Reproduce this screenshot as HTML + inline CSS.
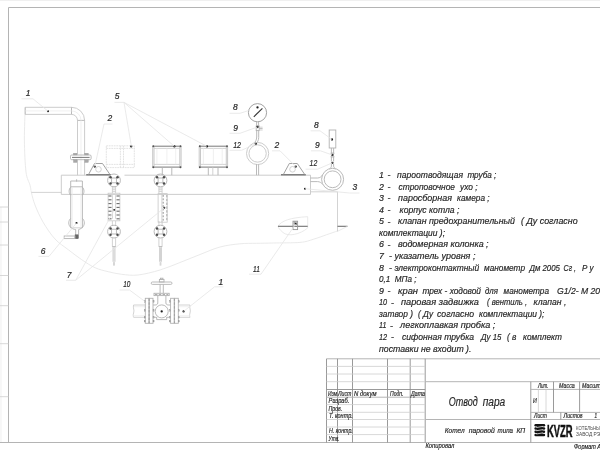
<!DOCTYPE html>
<html lang="ru">
<head>
<meta charset="utf-8">
<title>Отвод пара — Котел паровой типа КП</title>
<style>
html,body{margin:0;padding:0;background:#fff;overflow:hidden}
svg{display:block;width:600px;height:450px;filter:grayscale(1)}
svg text{font-family:"Liberation Sans",sans-serif;font-style:italic;white-space:pre}
.o{stroke:#b2b2b2;stroke-width:.9;fill:none}
.o2h{stroke:#c6c6c6;stroke-width:.9;fill:none}
.om{stroke:#989898;stroke-width:.9;fill:none}
.o2{stroke:#c8c8c8;stroke-width:.8;fill:none}
.vl{stroke:#e9e9e9;stroke-width:.7;fill:none}
.l{stroke:#e5e5e5;stroke-width:.8;fill:none}
.d{stroke:#5a5a5a;stroke-width:1.1;fill:none}
.d2{stroke:#707070;stroke-width:1.1;fill:none}
.d3{stroke:#6a6a6a;stroke-width:.9;fill:none}
.o3{stroke:#b0b0b0;stroke-width:.7;fill:none}
.ds{stroke:#dcdcdc;stroke-width:.8;fill:none;stroke-dasharray:1.8 .7}
.dsh{stroke:#7a7a7a;stroke-width:.8;fill:none;stroke-dasharray:1.8 1.6}
.ndl{stroke:#333;stroke-width:1.1;fill:none}
.f{stroke:#b4b4b4;stroke-width:1;fill:none}
.tv{stroke:#8e8e8e;stroke-width:.9;fill:none}
.t{stroke:#cecece;stroke-width:.8;fill:none}
.k{fill:#1c1c1c;stroke:none}
.k2{fill:#555;stroke:none}
.k3{fill:#4a4a4a;stroke:none}
.bd{stroke:#6a6a6a;stroke-width:1.1;fill:none}
.dsh2{stroke:#999;stroke-width:.8;fill:none;stroke-dasharray:2.4 1.4}
.dk{fill:#a8a8a8;stroke:#999;stroke-width:.3}
.dk2{fill:#666;stroke:#555;stroke-width:.4}
.blk{fill:#111;stroke:none}
.wh{stroke:#fff;stroke-width:.75;fill:none}
.tx{fill:#262626;stroke:#262626;stroke-width:.18}
.dash{stroke:#2b2b2b;stroke-width:.9;fill:none}
.lb{fill:#2a2a2a;stroke:#2a2a2a;stroke-width:.22}
.logo{fill:#111;stroke:#111;stroke-width:.55;font-style:normal;font-weight:bold}
.lg2{fill:#4a4a4a;font-style:normal}
</style>
</head>
<body>
<svg width="600" height="450" viewBox="0 0 600 450">
<rect x="0" y="0" width="600" height="450" fill="#fff"/>
<g id="frame">
<line class="vl" x1="0" y1="0.5" x2="600" y2="0.5"/>
<line class="vl" x1="1" y1="207" x2="1" y2="442.5"/>
<line class="f" x1="8.5" y1="7.5" x2="8.5" y2="442.5"/>
<line class="f" x1="8.5" y1="7.5" x2="600" y2="7.5"/>
<line class="f" x1="0" y1="442.5" x2="600" y2="442.5"/>
<line class="t" x1="0" y1="207" x2="8.5" y2="207"/>
<line class="t" x1="0" y1="222" x2="8.5" y2="222"/>
<line class="t" x1="0" y1="245" x2="8.5" y2="245"/>
<line class="t" x1="0" y1="275.5" x2="8.5" y2="275.5"/>
<line class="t" x1="0" y1="305.7" x2="8.5" y2="305.7"/>
<line class="t" x1="0" y1="343.7" x2="8.5" y2="343.7"/>
<line class="t" x1="0" y1="396.7" x2="8.5" y2="396.7"/>
</g>
<g id="boiler">
<path class="l" d="M25.2,107.3 C25.1,112.8 24.3,129.2 24.4,140 C24.5,150.8 25.1,164.5 26,172 C26.9,179.5 29.1,181.6 30,185 C30.9,188.4 30.6,189.3 31.4,192.6 C32.2,195.9 33.1,200.1 35,205 C36.9,209.9 39.7,216.3 43,222 C46.3,227.7 50.8,234.4 55,239 C59.2,243.6 63.8,246.2 68.3,249.7 C72.8,253.1 77.2,256.7 81.7,259.7 C86.2,262.7 90.6,265.7 95,267.7 C99.4,269.7 103.8,270.6 108.3,271.7 C112.8,272.8 116.8,273.8 121.7,274.3 C126.7,274.9 131.6,275.7 138,275 C144.4,274.3 153.0,272.1 160,270 C167.0,267.9 173.3,265.1 180,262.5 C186.7,259.9 193.3,257.1 200,254.5 C206.7,251.9 213.3,248.8 220,247 C226.7,245.2 233.9,244.4 240,243.8 C246.1,243.2 251.1,243.4 256.7,243.3 C262.2,243.2 266.1,243.2 273.3,243 C280.5,242.8 293.3,243.0 300,242.4 C306.7,241.8 308.9,240.6 313.3,239.3 C317.8,238.0 322.7,236.1 326.7,234.7 C330.7,233.3 335.7,231.6 337.5,231"/>
<line class="o2" x1="31.4" y1="192.4" x2="61.3" y2="192.4"/>
<line class="o2" x1="310.5" y1="191.8" x2="337.5" y2="191.8"/>
<line class="o2" x1="337.5" y1="191.8" x2="337.5" y2="231.5"/>
<line class="d2" x1="337.5" y1="226.3" x2="347.5" y2="226.3"/>
<line class="l" x1="347.5" y1="226.3" x2="337.5" y2="231.3"/>
</g>
<g id="header">
<path class="o2h" d="M110,175.2 H61.3 V194.4 H310.5 V175.2 H124.5"/>
<circle class="k" cx="305" cy="188.7" r="1.05"/>
</g>
<g id="pipe1">
<path class="o2h" d="M25.2,107.3 H71.5 A13.1,13.1 0 0 1 84.6,120.4 V154.6"/>
<path class="o2h" d="M25.2,114.4 H71.5 A6,6 0 0 1 77.5,120.4 V154.6"/>
<line class="o" x1="25.2" y1="107.3" x2="25.2" y2="114.4"/>
<line class="o" x1="71.5" y1="107.3" x2="71.5" y2="114.4"/>
<line class="o" x1="77.5" y1="120.4" x2="84.6" y2="120.4"/>
<path class="vl" d="M25.2,110.9 H71.5 A9.5,9.5 0 0 1 81,120.4 V175"/>
<line class="o2h" x1="77.5" y1="159.8" x2="77.5" y2="175.2"/>
<line class="o2h" x1="84.6" y1="159.8" x2="84.6" y2="175.2"/>
<rect class="o" x="70.5" y="155" width="20.6" height="4.7" rx="1.2"/>
<line class="d3" x1="72" y1="157.4" x2="89.6" y2="157.4"/>
<rect class="dk" x="73.4" y="153.2" width="3.6" height="1.8"/>
<rect class="dk" x="73.4" y="159.7" width="3.6" height="2.8"/>
<rect class="dk" x="84.8" y="153.2" width="3.6" height="1.8"/>
<rect class="dk" x="84.8" y="159.7" width="3.6" height="2.8"/>
<circle class="k" cx="48" cy="111.2" r="1.05"/>
</g>
<g>
<line class="d" x1="86.2" y1="174.8" x2="111" y2="174.8"/>
<path class="om" d="M88.5,174.6 L94.5,163.5 L102.5,163.5 L110,174.6"/>
<circle class="o2" cx="98.5" cy="169.3" r="2.8"/>
<circle class="k" cx="94.8" cy="166.6" r="1.15"/>
</g>
<g>
<line class="d" x1="281" y1="174.8" x2="305.8" y2="174.8"/>
<path class="om" d="M283.3,174.6 L289.3,163.5 L297.3,163.5 L304.8,174.6"/>
<circle class="o2" cx="292.5" cy="169.3" r="2.8"/>
<circle class="k" cx="295.8" cy="166.6" r="1.15"/>
</g>
<g>
<rect class="ds" x="106.3" y="145.8" width="28" height="21.8"/>
<line class="ds" x1="106.3" y1="148.4" x2="134.7" y2="148.4"/>
<line class="ds" x1="106.3" y1="164.4" x2="134.7" y2="164.4"/>
<line class="ds" x1="120.4" y1="145.8" x2="120.4" y2="167.6"/>
<line class="ds" x1="123.5" y1="145.8" x2="123.5" y2="167.6"/>
<circle class="k" cx="131.2" cy="146.4" r="1.15"/>
</g>
<g>
<line class="d3" x1="152.7" y1="146.2" x2="181.1" y2="146.2"/>
<line class="d3" x1="152.7" y1="167.1" x2="181.1" y2="167.1"/>
<line class="o3" x1="152.7" y1="146.2" x2="152.7" y2="167.1"/>
<line class="o3" x1="181.1" y1="146.2" x2="181.1" y2="167.1"/>
<line class="o3" x1="154" y1="146.2" x2="154" y2="167.1"/>
<line class="o3" x1="179.8" y1="146.2" x2="179.8" y2="167.1"/>
<line class="o2" x1="154" y1="148.4" x2="179.8" y2="148.4"/>
<line class="o2" x1="154" y1="164.4" x2="179.8" y2="164.4"/>
<line class="vl" x1="156.9" y1="148.4" x2="156.9" y2="164.4"/>
<line class="vl" x1="166.9" y1="148.4" x2="166.9" y2="164.4"/>
<line class="vl" x1="175.7" y1="148.4" x2="175.7" y2="164.4"/>
<circle class="k2" cx="153.3" cy="146.2" r="0.95"/>
<circle class="k2" cx="153.3" cy="167.3" r="0.95"/>
<circle class="k2" cx="180.5" cy="146.2" r="0.95"/>
<circle class="k2" cx="180.5" cy="167.3" r="0.95"/>
<line class="o" x1="162.3" y1="167.1" x2="162.3" y2="175.2"/>
<line class="o" x1="171.8" y1="167.1" x2="171.8" y2="175.2"/>
<circle class="k" cx="174.4" cy="146.4" r="1.15"/>
</g>
<g>
<line class="d3" x1="199.2" y1="146.2" x2="227.6" y2="146.2"/>
<line class="d3" x1="199.2" y1="167.1" x2="227.6" y2="167.1"/>
<line class="o3" x1="199.2" y1="146.2" x2="199.2" y2="167.1"/>
<line class="o3" x1="227.6" y1="146.2" x2="227.6" y2="167.1"/>
<line class="o3" x1="200.5" y1="146.2" x2="200.5" y2="167.1"/>
<line class="o3" x1="226.3" y1="146.2" x2="226.3" y2="167.1"/>
<line class="o2" x1="200.5" y1="148.4" x2="226.3" y2="148.4"/>
<line class="o2" x1="200.5" y1="164.4" x2="226.3" y2="164.4"/>
<line class="vl" x1="203.4" y1="148.4" x2="203.4" y2="164.4"/>
<line class="vl" x1="213.4" y1="148.4" x2="213.4" y2="164.4"/>
<line class="vl" x1="222.2" y1="148.4" x2="222.2" y2="164.4"/>
<circle class="k2" cx="199.8" cy="146.2" r="0.95"/>
<circle class="k2" cx="199.8" cy="167.3" r="0.95"/>
<circle class="k2" cx="227" cy="146.2" r="0.95"/>
<circle class="k2" cx="227" cy="167.3" r="0.95"/>
<line class="o" x1="208.3" y1="167.1" x2="208.3" y2="175.2"/>
<line class="o" x1="218" y1="167.1" x2="218" y2="175.2"/>
<line class="o2" x1="212.8" y1="167.1" x2="212.8" y2="175.2"/>
<circle class="k" cx="207" cy="146.4" r="1.15"/>
</g>
<g id="col6">
<path class="o" d="M70.7,228 V181 H82.4 V228"/>
<line class="o" x1="70.7" y1="186.8" x2="82.4" y2="186.8"/>
<line class="o2" x1="70.7" y1="227.8" x2="82.4" y2="227.8"/>
<path class="o" d="M70.7,187.2 C68.6,189 68.6,193.4 70.7,195.2 M82.4,187.2 C84.5,189 84.5,193.4 82.4,195.2"/>
<path class="o" d="M70.7,218.4 C68.2,220.6 68,225.2 71,227.6 C72.4,228.8 74,229.4 75.7,229.6 M82.4,218.4 C84.9,220.6 85.1,225.2 82.1,227.6 C80.7,228.8 79.4,229.4 78.6,229.6"/>
<line class="o" x1="76.6" y1="179.3" x2="76.6" y2="181.6"/>
<line class="vl" x1="72.2" y1="186.8" x2="72.2" y2="227.8"/>
<line class="vl" x1="80.9" y1="186.8" x2="80.9" y2="227.8"/>
<line class="o" x1="75.7" y1="229.6" x2="75.7" y2="234.8"/>
<line class="o" x1="78.6" y1="229.6" x2="78.6" y2="234.8"/>
<rect class="dk2" x="75" y="234.8" width="3.4" height="3.9"/>
<rect class="o" x="64.2" y="236" width="10.8" height="2.6"/>
<circle class="k" cx="76.5" cy="223" r="1.05"/>
</g>
<g>
<circle class="o" cx="114" cy="180.4" r="6.4"/>
<rect class="o" x="111.6" y="178" width="4.8" height="4.8"/>
<circle class="k3" cx="110.5" cy="177.3" r="1.25"/>
<circle class="k3" cx="110.5" cy="183.5" r="1.25"/>
<circle class="k3" cx="117.5" cy="177.3" r="1.25"/>
<circle class="k3" cx="117.5" cy="183.5" r="1.25"/>
<line class="o2" x1="112.4" y1="186.5" x2="112.4" y2="193.2"/>
<line class="o2" x1="115.6" y1="186.5" x2="115.6" y2="193.2"/>
<line class="o2" x1="112.4" y1="188" x2="115.6" y2="188"/>
<line class="o2" x1="112.4" y1="189.7" x2="115.6" y2="189.7"/>
<line class="o2" x1="112.4" y1="191.4" x2="115.6" y2="191.4"/>
<rect class="o2" x="108.1" y="193.2" width="11.8" height="27.6"/>
<line class="o2" x1="112.4" y1="195.2" x2="112.4" y2="218.8"/>
<line class="o2" x1="115.6" y1="195.2" x2="115.6" y2="218.8"/>
<line class="bd" x1="108.4" y1="196" x2="111.5" y2="196"/>
<line class="bd" x1="116.5" y1="196" x2="119.6" y2="196"/>
<line class="bd" x1="108.4" y1="199.8" x2="111.5" y2="199.8"/>
<line class="bd" x1="116.5" y1="199.8" x2="119.6" y2="199.8"/>
<line class="bd" x1="108.4" y1="203.6" x2="111.5" y2="203.6"/>
<line class="bd" x1="116.5" y1="203.6" x2="119.6" y2="203.6"/>
<line class="bd" x1="108.4" y1="207.4" x2="111.5" y2="207.4"/>
<line class="bd" x1="116.5" y1="207.4" x2="119.6" y2="207.4"/>
<line class="bd" x1="108.4" y1="211.2" x2="111.5" y2="211.2"/>
<line class="bd" x1="116.5" y1="211.2" x2="119.6" y2="211.2"/>
<line class="bd" x1="108.4" y1="215" x2="111.5" y2="215"/>
<line class="bd" x1="116.5" y1="215" x2="119.6" y2="215"/>
<line class="bd" x1="108.4" y1="218.8" x2="111.5" y2="218.8"/>
<line class="bd" x1="116.5" y1="218.8" x2="119.6" y2="218.8"/>
<circle class="k" cx="114.2" cy="210" r="1"/>
<line class="o2" x1="112.4" y1="221" x2="112.4" y2="225.6"/>
<line class="o2" x1="115.6" y1="221" x2="115.6" y2="225.6"/>
<circle class="o" cx="114" cy="231.6" r="6.4"/>
<rect class="o" x="111.6" y="229.2" width="4.8" height="4.8"/>
<circle class="k3" cx="110.5" cy="228.5" r="1.25"/>
<circle class="k3" cx="110.5" cy="234.7" r="1.25"/>
<circle class="k3" cx="117.5" cy="228.5" r="1.25"/>
<circle class="k3" cx="117.5" cy="234.7" r="1.25"/>
<path class="o2" d="M112.4,237.8 V246.3 L113,247.4 V261.3 L113.6,262.3 V265.6 M115.6,237.8 V246.3 L115,247.4 V261.3 L114.4,262.3 V265.6"/>
<line class="o" x1="112.4" y1="246.6" x2="115.6" y2="246.6"/>
<line class="o2" x1="114" y1="247.4" x2="114" y2="261.5"/>
</g>
<g>
<circle class="o" cx="160.5" cy="180.4" r="6.4"/>
<rect class="o" x="158.1" y="178" width="4.8" height="4.8"/>
<circle class="k3" cx="157" cy="177.3" r="1.25"/>
<circle class="k3" cx="157" cy="183.5" r="1.25"/>
<circle class="k3" cx="164" cy="177.3" r="1.25"/>
<circle class="k3" cx="164" cy="183.5" r="1.25"/>
<line class="o2" x1="158.9" y1="186.5" x2="158.9" y2="193.2"/>
<line class="o2" x1="162.1" y1="186.5" x2="162.1" y2="193.2"/>
<line class="o2" x1="158.9" y1="188" x2="162.1" y2="188"/>
<line class="o2" x1="158.9" y1="189.7" x2="162.1" y2="189.7"/>
<line class="o2" x1="158.9" y1="191.4" x2="162.1" y2="191.4"/>
<rect class="o2" x="158.1" y="193.6" width="9.1" height="28.6"/>
<line class="o2" x1="161.9" y1="193.6" x2="161.9" y2="222.2"/>
<line class="dsh" x1="163.2" y1="195" x2="163.2" y2="221"/>
<line class="dsh2" x1="166.8" y1="195" x2="166.8" y2="221"/>
<circle class="k" cx="164.3" cy="207.8" r="1"/>
<line class="o2" x1="158.9" y1="221" x2="158.9" y2="225.6"/>
<line class="o2" x1="162.1" y1="221" x2="162.1" y2="225.6"/>
<circle class="o" cx="160.5" cy="231.6" r="6.4"/>
<rect class="o" x="158.1" y="229.2" width="4.8" height="4.8"/>
<circle class="k3" cx="157" cy="228.5" r="1.25"/>
<circle class="k3" cx="157" cy="234.7" r="1.25"/>
<circle class="k3" cx="164" cy="228.5" r="1.25"/>
<circle class="k3" cx="164" cy="234.7" r="1.25"/>
<path class="o2" d="M158.9,237.8 V246.3 L159.5,247.4 V261.3 L160.1,262.3 V265.6 M162.1,237.8 V246.3 L161.5,247.4 V261.3 L160.9,262.3 V265.6"/>
<line class="o" x1="158.9" y1="246.6" x2="162.1" y2="246.6"/>
<line class="o2" x1="160.5" y1="247.4" x2="160.5" y2="261.5"/>
</g>
<g id="gauge">
<circle class="om" cx="257.5" cy="112.7" r="9.1"/>
<line class="ndl" x1="253.8" y1="116.8" x2="262.4" y2="108.3"/>
<circle class="k" cx="257.5" cy="107.4" r="1.15"/>
<line class="o" x1="256.6" y1="121.8" x2="256.6" y2="126"/>
<line class="o" x1="258.6" y1="121.8" x2="258.6" y2="126"/>
<rect class="o" x="256.2" y="126" width="3" height="4.6"/>
<line class="o" x1="259.2" y1="128.6" x2="262.6" y2="128.6"/>
<line class="o2" x1="259.2" y1="127.2" x2="262.6" y2="127.2"/>
<line class="o2" x1="259.2" y1="130" x2="262.6" y2="130"/>
<circle class="k" cx="257.5" cy="127" r="1.15"/>
<path class="o" d="M256.7,130.6 V137 C256.7,140 255.2,141.5 254.6,143.2 M258.7,130.6 V137.4 C258.7,140.5 257.2,142 256.7,143.6"/>
<circle class="o2h" cx="257.6" cy="153.5" r="11.1"/>
<circle class="o2h" cx="257.6" cy="153.5" r="8.65"/>
<line class="o" x1="256.5" y1="164.2" x2="256.5" y2="175.2"/>
<line class="o" x1="258.6" y1="164.4" x2="258.6" y2="175.2"/>
<circle class="k" cx="255.8" cy="143.8" r="1.15"/>
</g>
<g id="gauge2">
<rect class="o" x="329.2" y="130" width="6.6" height="18"/>
<circle class="k" cx="332" cy="139.5" r="1.15"/>
<line class="o" x1="331.4" y1="148" x2="331.4" y2="153"/>
<line class="o" x1="333.6" y1="148" x2="333.6" y2="153"/>
<path class="o" d="M330.8,153 L334.2,157 M334.2,153 L330.8,157 M330.8,153 H334.2 M330.8,157 H334.2"/>
<circle class="k" cx="332.4" cy="155" r="1.15"/>
<line class="o" x1="331.4" y1="157" x2="331.4" y2="161.5"/>
<line class="o" x1="333.6" y1="157" x2="333.6" y2="161.5"/>
<circle class="k" cx="332.4" cy="162.8" r="1.15"/>
<path class="o" d="M331.4,163.5 V166 C331.4,167.4 330.5,168 329.5,168.8 M333.6,163.5 V166 C333.6,167.4 334.5,168 335.5,168.8"/>
<circle class="o" cx="332.6" cy="179.3" r="11"/>
<circle class="o" cx="332.6" cy="179.3" r="8.4"/>
<path class="o" d="M310.5,178 H317.5 C320,178 321.3,176.6 322.4,175.2 M310.5,181.6 H317.5 C320,181.6 321.4,183 322.6,184.2"/>
</g>
<g id="plug">
<path class="l" d="M278,226.3 C281,221 290,217.6 307.7,216.7 V228 C300,234.5 288,237 283,232.5 C280,230 278.5,228 278,226.3"/>
<line class="d2" x1="278" y1="226.3" x2="307.7" y2="226.3"/>
<rect class="om" x="293" y="221.2" width="4.6" height="8.4"/>
<rect class="dk" x="294" y="221.6" width="2.6" height="2.6"/>
<line class="o" x1="293" y1="223.2" x2="297.6" y2="223.2"/>
<circle class="k" cx="295.7" cy="224" r="1"/>
</g>
<g id="valve10">
<path class="o2" d="M145.3,305 H133.6 C132.6,308 134.8,310 133.6,313 C133,315 133.2,316 133.6,317.3 H145.3"/>
<line class="vl" x1="134" y1="306.7" x2="145.3" y2="306.7"/>
<line class="vl" x1="134" y1="315.8" x2="145.3" y2="315.8"/>
<path class="o2" d="M178.7,305 H190 C189,308 191.2,310 190,313 C189.4,315 189.6,316 190,317.3 H178.7"/>
<line class="vl" x1="178.7" y1="306.7" x2="189.6" y2="306.7"/>
<line class="vl" x1="178.7" y1="315.8" x2="189.6" y2="315.8"/>
<rect class="o" x="145.3" y="298.3" width="3.6" height="25"/>
<rect class="o" x="149.3" y="298.3" width="3.7" height="25"/>
<line class="dsh2" x1="149.1" y1="298.6" x2="149.1" y2="323.3"/>
<rect class="dk" x="144.2" y="300.8" width="1.1" height="1.6"/>
<rect class="dk" x="153" y="300.8" width="1.1" height="1.6"/>
<rect class="dk" x="144.2" y="309.8" width="1.1" height="1.6"/>
<rect class="dk" x="153" y="309.8" width="1.1" height="1.6"/>
<rect class="dk" x="144.2" y="316.5" width="1.1" height="1.6"/>
<rect class="dk" x="153" y="316.5" width="1.1" height="1.6"/>
<rect class="dk" x="144.2" y="320.4" width="1.1" height="1.6"/>
<rect class="dk" x="153" y="320.4" width="1.1" height="1.6"/>
<rect class="o" x="170.6" y="298.3" width="3.6" height="25"/>
<rect class="o" x="174.6" y="298.3" width="3.7" height="25"/>
<line class="dsh2" x1="174.4" y1="298.6" x2="174.4" y2="323.3"/>
<rect class="dk" x="169.5" y="300.8" width="1.1" height="1.6"/>
<rect class="dk" x="178.3" y="300.8" width="1.1" height="1.6"/>
<rect class="dk" x="169.5" y="309.8" width="1.1" height="1.6"/>
<rect class="dk" x="178.3" y="309.8" width="1.1" height="1.6"/>
<rect class="dk" x="169.5" y="316.5" width="1.1" height="1.6"/>
<rect class="dk" x="178.3" y="316.5" width="1.1" height="1.6"/>
<rect class="dk" x="169.5" y="320.4" width="1.1" height="1.6"/>
<rect class="dk" x="178.3" y="320.4" width="1.1" height="1.6"/>
<circle class="o" cx="161.7" cy="311.4" r="6.5"/>
<path class="o" d="M157.8,295.6 V303 C157.8,304.6 156.2,305 155,305 H153 M165.9,295.6 V303 C165.9,304.6 167.5,305 168.6,305 H170.6"/>
<path class="o" d="M153,317.3 H156.6 M166.8,317.3 H170.6 M156.7,317 V319.6 H166.7 V317"/>
<rect class="o" x="154" y="293.3" width="15.2" height="2.3"/>
<line class="dsh2" x1="155" y1="294.5" x2="168.2" y2="294.5"/>
<line class="o" x1="160.1" y1="284.4" x2="160.1" y2="293.3"/>
<line class="o" x1="163.3" y1="284.4" x2="163.3" y2="293.3"/>
<rect class="o" x="151.2" y="282" width="20.8" height="2.4" rx="1.2"/>
<rect class="o" x="159.4" y="279.4" width="4.6" height="2.6"/>
<rect class="o" x="160.5" y="278.2" width="2.4" height="1.2"/>
<circle class="k" cx="161.7" cy="311.4" r="1.15"/>
<circle class="k" cx="183.6" cy="311.4" r="1.15"/>
</g>
<g id="labels">
<text class="lb" x="25.8" y="96.2" font-size="9.8" textLength="4.7" lengthAdjust="spacingAndGlyphs">1</text>
<line class="l" x1="21.5" y1="98.8" x2="33" y2="98.8"/>
<line class="l" x1="33" y1="98.8" x2="48" y2="111.2"/>
<text class="lb" x="107.4" y="121.2" font-size="9.8" textLength="4.7" lengthAdjust="spacingAndGlyphs">2</text>
<line class="l" x1="104" y1="124" x2="112.5" y2="124"/>
<line class="l" x1="104" y1="124" x2="94.8" y2="166.6"/>
<text class="lb" x="114.8" y="99.2" font-size="9.8" textLength="4.7" lengthAdjust="spacingAndGlyphs">5</text>
<line class="l" x1="114.5" y1="102.4" x2="124" y2="102.4"/>
<line class="l" x1="124" y1="102.4" x2="131.4" y2="146.4"/>
<line class="l" x1="124" y1="102.4" x2="174.4" y2="146.4"/>
<line class="l" x1="124" y1="102.4" x2="207" y2="146.4"/>
<text class="lb" x="233" y="110.2" font-size="9.8" textLength="4.7" lengthAdjust="spacingAndGlyphs">8</text>
<line class="l" x1="229.5" y1="113.3" x2="240" y2="113.3"/>
<line class="l" x1="240" y1="113.3" x2="248.5" y2="110.6"/>
<text class="lb" x="233.2" y="130.6" font-size="9.8" textLength="4.7" lengthAdjust="spacingAndGlyphs">9</text>
<line class="l" x1="229.5" y1="133.3" x2="240" y2="133.3"/>
<line class="l" x1="240" y1="133.3" x2="257.5" y2="127"/>
<text class="lb" x="233.2" y="147.6" font-size="9.8" textLength="7.8" lengthAdjust="spacingAndGlyphs">12</text>
<line class="l" x1="229.5" y1="150.3" x2="241.5" y2="150.3"/>
<line class="l" x1="241.5" y1="150.3" x2="255.8" y2="143.8"/>
<text class="lb" x="274.6" y="148.4" font-size="9.8" textLength="4.7" lengthAdjust="spacingAndGlyphs">2</text>
<line class="l" x1="272" y1="150.8" x2="280" y2="150.8"/>
<line class="l" x1="280" y1="150.8" x2="295.8" y2="166.6"/>
<text class="lb" x="314" y="127.6" font-size="9.8" textLength="4.7" lengthAdjust="spacingAndGlyphs">8</text>
<line class="l" x1="310.6" y1="130.8" x2="320" y2="130.8"/>
<line class="l" x1="320" y1="130.8" x2="332" y2="139.5"/>
<text class="lb" x="315" y="148.2" font-size="9.8" textLength="4.7" lengthAdjust="spacingAndGlyphs">9</text>
<line class="l" x1="311" y1="150.8" x2="320.4" y2="150.8"/>
<line class="l" x1="320.4" y1="150.8" x2="332.4" y2="155"/>
<text class="lb" x="309.6" y="166" font-size="9.8" textLength="7.6" lengthAdjust="spacingAndGlyphs">12</text>
<line class="l" x1="305.6" y1="169.2" x2="317.6" y2="169.2"/>
<line class="l" x1="317.6" y1="169.2" x2="332.4" y2="162.8"/>
<text class="lb" x="352.4" y="189.6" font-size="9.8" textLength="4.7" lengthAdjust="spacingAndGlyphs">3</text>
<line class="l" x1="349.5" y1="193" x2="359.5" y2="193"/>
<line class="l" x1="349.5" y1="193" x2="305" y2="188.7"/>
<text class="lb" x="40.8" y="253.8" font-size="9.8" textLength="4.7" lengthAdjust="spacingAndGlyphs">6</text>
<line class="l" x1="38.5" y1="256.4" x2="49" y2="256.4"/>
<line class="l" x1="49" y1="256.4" x2="76.5" y2="223"/>
<text class="lb" x="66.8" y="277.8" font-size="9.8" textLength="4.7" lengthAdjust="spacingAndGlyphs">7</text>
<line class="l" x1="66" y1="280.3" x2="75.7" y2="280.3"/>
<line class="l" x1="75.7" y1="280.3" x2="114.2" y2="210"/>
<line class="l" x1="75.7" y1="280.3" x2="164.3" y2="207.8"/>
<text class="lb" x="123.2" y="287" font-size="9.8" textLength="7.2" lengthAdjust="spacingAndGlyphs">10</text>
<line class="l" x1="119.5" y1="290" x2="129.5" y2="290"/>
<line class="l" x1="129.5" y1="290" x2="145" y2="301.5"/>
<text class="lb" x="218.4" y="284.8" font-size="9.8" textLength="4.7" lengthAdjust="spacingAndGlyphs">1</text>
<line class="l" x1="214.6" y1="286.8" x2="223.4" y2="286.8"/>
<line class="l" x1="214.6" y1="286.8" x2="183.6" y2="311.4"/>
<text class="lb" x="253" y="271.8" font-size="9.8" textLength="6.8" lengthAdjust="spacingAndGlyphs">11</text>
<line class="l" x1="249" y1="274.2" x2="261" y2="274.2"/>
<line class="l" x1="261" y1="274.2" x2="295.7" y2="224"/>
</g>
<g id="notes">
<text class="tx" x="379" y="178" font-size="8.8">1</text>
<text class="tx" x="387.6" y="178.3" font-size="8.8">-</text>
<text class="tx" y="178" font-size="8.8"><tspan x="397" textLength="66" lengthAdjust="spacingAndGlyphs">пароотводящая</tspan> <tspan x="467.4" textLength="29" lengthAdjust="spacingAndGlyphs">труба ;</tspan></text>
<text class="tx" x="379" y="189.567" font-size="8.8">2</text>
<text class="tx" x="387.6" y="189.867" font-size="8.8">-</text>
<text class="tx" y="189.567" font-size="8.8"><tspan x="398.6" textLength="56.4" lengthAdjust="spacingAndGlyphs">строповочное</tspan> <tspan x="460" textLength="17.6" lengthAdjust="spacingAndGlyphs">ухо ;</tspan></text>
<text class="tx" x="379" y="201.134" font-size="8.8">3</text>
<text class="tx" x="387.6" y="201.434" font-size="8.8">-</text>
<text class="tx" y="201.134" font-size="8.8"><tspan x="398" textLength="54" lengthAdjust="spacingAndGlyphs">паросборная</tspan> <tspan x="457" textLength="32.6" lengthAdjust="spacingAndGlyphs">камера ;</tspan></text>
<text class="tx" x="379" y="212.701" font-size="8.8">4</text>
<text class="tx" x="387.6" y="213.001" font-size="8.8">-</text>
<text class="tx" x="399.6" y="212.701" font-size="8.8" textLength="59.8" lengthAdjust="spacingAndGlyphs">корпус котла ;</text>
<text class="tx" x="379" y="224.268" font-size="8.8">5</text>
<text class="tx" x="387.6" y="224.568" font-size="8.8">-</text>
<text class="tx" y="224.268" font-size="8.8"><tspan x="398" textLength="117" lengthAdjust="spacingAndGlyphs">клапан предохранительный</tspan> <tspan x="521" textLength="56.6" lengthAdjust="spacingAndGlyphs">( Ду согласно</tspan></text>
<text class="tx" x="379" y="235.835" font-size="8.8" textLength="66" lengthAdjust="spacingAndGlyphs">комплектации );</text>
<text class="tx" x="379" y="247.402" font-size="8.8">6</text>
<text class="tx" x="387.6" y="247.702" font-size="8.8">-</text>
<text class="tx" x="398" y="247.402" font-size="8.8" textLength="90.6" lengthAdjust="spacingAndGlyphs">водомерная колонка ;</text>
<text class="tx" x="379" y="258.969" font-size="8.8">7</text>
<text class="tx" x="389" y="259.269" font-size="8.8">-</text>
<text class="tx" x="394.4" y="258.969" font-size="8.8" textLength="81" lengthAdjust="spacingAndGlyphs">указатель уровня ;</text>
<text class="tx" x="379" y="270.536" font-size="8.8">8</text>
<text class="tx" x="389" y="270.836" font-size="8.8">-</text>
<text class="tx" y="270.536" font-size="8.8"><tspan x="394.4" textLength="84.8" lengthAdjust="spacingAndGlyphs">электроконтактный</tspan> <tspan x="484" textLength="41" lengthAdjust="spacingAndGlyphs">манометр</tspan> <tspan x="529.4" textLength="30.6" lengthAdjust="spacingAndGlyphs">Дм 2005</tspan> <tspan x="563.6" textLength="12.4" lengthAdjust="spacingAndGlyphs">Сг ,</tspan> <tspan x="582" textLength="11.6" lengthAdjust="spacingAndGlyphs">Р у</tspan></text>
<text class="tx" x="379" y="282.103" font-size="8.8" textLength="37.4" lengthAdjust="spacingAndGlyphs">0,1  МПа ;</text>
<text class="tx" x="379" y="293.67" font-size="8.8">9</text>
<text class="tx" x="387.6" y="293.97" font-size="8.8">-</text>
<text class="tx" y="293.67" font-size="8.8"><tspan x="398" textLength="20" lengthAdjust="spacingAndGlyphs">кран</tspan> <tspan x="422.4" textLength="58.6" lengthAdjust="spacingAndGlyphs">трех - ходовой</tspan> <tspan x="485" textLength="13" lengthAdjust="spacingAndGlyphs">для</tspan> <tspan x="503.6" textLength="45.4" lengthAdjust="spacingAndGlyphs">манометра</tspan> <tspan x="557" textLength="45.5" lengthAdjust="spacingAndGlyphs">G1/2- М 20;</tspan></text>
<text class="tx" x="379" y="305.237" font-size="8.8" textLength="8.2" lengthAdjust="spacingAndGlyphs">10</text>
<text class="tx" x="391" y="305.537" font-size="8.8">-</text>
<text class="tx" y="305.237" font-size="8.8"><tspan x="401" textLength="78" lengthAdjust="spacingAndGlyphs">паровая задвижка</tspan> <tspan x="487" textLength="40" lengthAdjust="spacingAndGlyphs">( вентиль ,</tspan> <tspan x="533.6" textLength="32.8" lengthAdjust="spacingAndGlyphs">клапан ,</tspan></text>
<text class="tx" y="316.804" font-size="8.8"><tspan x="379" textLength="34" lengthAdjust="spacingAndGlyphs">затвор )</tspan> <tspan x="418" textLength="15" lengthAdjust="spacingAndGlyphs">( Ду</tspan> <tspan x="437" textLength="37" lengthAdjust="spacingAndGlyphs">согласно</tspan> <tspan x="479" textLength="65.4" lengthAdjust="spacingAndGlyphs">комплектации );</tspan></text>
<text class="tx" x="379" y="328.371" font-size="8.8" textLength="7.4" lengthAdjust="spacingAndGlyphs">11</text>
<text class="tx" x="390" y="328.671" font-size="8.8">-</text>
<text class="tx" x="400" y="328.371" font-size="8.8" textLength="95.4" lengthAdjust="spacingAndGlyphs">легкоплавкая пробка ;</text>
<text class="tx" x="379" y="339.938" font-size="8.8" textLength="8.2" lengthAdjust="spacingAndGlyphs">12</text>
<text class="tx" x="391" y="340.238" font-size="8.8">-</text>
<text class="tx" y="339.938" font-size="8.8"><tspan x="402" textLength="72" lengthAdjust="spacingAndGlyphs">сифонная трубка</tspan> <tspan x="481" textLength="20.4" lengthAdjust="spacingAndGlyphs">Ду 15</tspan> <tspan x="507" textLength="9.4" lengthAdjust="spacingAndGlyphs">( в</tspan> <tspan x="523" textLength="39" lengthAdjust="spacingAndGlyphs">комплект</tspan></text>
<text class="tx" x="379" y="351.505" font-size="8.8" textLength="92.4" lengthAdjust="spacingAndGlyphs">поставки не входит ).</text>
</g>
<g id="title">
<line class="f" x1="326.5" y1="358.8" x2="600" y2="358.8"/>
<line class="tv" x1="326.5" y1="358.8" x2="326.5" y2="442.5"/>
<line class="tv" x1="337.5" y1="358.8" x2="337.5" y2="442.5"/>
<line class="tv" x1="352.5" y1="358.8" x2="352.5" y2="442.5"/>
<line class="tv" x1="387.5" y1="358.8" x2="387.5" y2="442.5"/>
<line class="tv" x1="410.2" y1="358.8" x2="410.2" y2="442.5"/>
<line class="tv" x1="425.2" y1="358.8" x2="425.2" y2="442.5"/>
<line class="t" x1="326.5" y1="366.4" x2="425.2" y2="366.4"/>
<line class="t" x1="326.5" y1="374" x2="425.2" y2="374"/>
<line class="t" x1="326.5" y1="381.7" x2="425.2" y2="381.7"/>
<line class="tv" x1="326.5" y1="389.5" x2="425.2" y2="389.5"/>
<line class="f" x1="326.5" y1="397.2" x2="425.2" y2="397.2"/>
<line class="t" x1="326.5" y1="404.6" x2="425.2" y2="404.6"/>
<line class="t" x1="326.5" y1="412.3" x2="425.2" y2="412.3"/>
<line class="t" x1="326.5" y1="419.5" x2="425.2" y2="419.5"/>
<line class="t" x1="326.5" y1="427" x2="425.2" y2="427"/>
<line class="t" x1="326.5" y1="434.6" x2="425.2" y2="434.6"/>
<line class="f" x1="425.2" y1="381.7" x2="600" y2="381.7"/>
<line class="f" x1="425.2" y1="419.5" x2="600" y2="419.5"/>
<line class="tv" x1="530.8" y1="381.7" x2="530.8" y2="442.5"/>
<line class="f" x1="530.8" y1="389.4" x2="600" y2="389.4"/>
<line class="f" x1="530.8" y1="412.4" x2="600" y2="412.4"/>
<line class="t" x1="538.4" y1="389.4" x2="538.4" y2="412.4"/>
<line class="t" x1="546" y1="389.4" x2="546" y2="412.4"/>
<line class="tv" x1="553.5" y1="381.7" x2="553.5" y2="412.4"/>
<line class="tv" x1="579.6" y1="381.7" x2="579.6" y2="412.4"/>
<line class="tv" x1="560.8" y1="412.4" x2="560.8" y2="419.5"/>
<text class="tx" x="328" y="396.2" font-size="6.7" textLength="9.2" lengthAdjust="spacingAndGlyphs">Изм</text>
<text class="tx" x="338" y="396.2" font-size="6.7" textLength="13.4" lengthAdjust="spacingAndGlyphs">Лист</text>
<text class="tx" x="354" y="396.2" font-size="6.7" textLength="22.5" lengthAdjust="spacingAndGlyphs">N докум</text>
<text class="tx" x="390" y="396.2" font-size="6.7" textLength="13.5" lengthAdjust="spacingAndGlyphs">Подп.</text>
<text class="tx" x="411" y="396.2" font-size="6.7" textLength="14" lengthAdjust="spacingAndGlyphs">Дата</text>
<text class="tx" x="328.6" y="402.9" font-size="6.7" textLength="20.8" lengthAdjust="spacingAndGlyphs">Разраб.</text>
<text class="tx" x="328.6" y="410.7" font-size="6.7" textLength="13.6" lengthAdjust="spacingAndGlyphs">Пров.</text>
<text class="tx" x="329" y="418.4" font-size="6.7" textLength="23.8" lengthAdjust="spacingAndGlyphs">Т. контр.</text>
<text class="tx" x="329" y="433.3" font-size="6.7" textLength="23.8" lengthAdjust="spacingAndGlyphs">Н. контр.</text>
<text class="tx" x="328.6" y="440.8" font-size="6.7" textLength="11" lengthAdjust="spacingAndGlyphs">Утв.</text>
<text class="tx" x="538" y="388.2" font-size="6.7" textLength="10.5" lengthAdjust="spacingAndGlyphs">Лит.</text>
<text class="tx" x="559" y="388.2" font-size="6.7" textLength="15.8" lengthAdjust="spacingAndGlyphs">Масса</text>
<text class="tx" x="582" y="388.2" font-size="6.7" textLength="19" lengthAdjust="spacingAndGlyphs">Масшт</text>
<text class="tx" x="533" y="403.4" font-size="6.7" textLength="3.8" lengthAdjust="spacingAndGlyphs">И</text>
<text class="tx" x="534" y="418.2" font-size="6.7" textLength="12.8" lengthAdjust="spacingAndGlyphs">Лист</text>
<text class="tx" x="563.6" y="418.2" font-size="6.7" textLength="19" lengthAdjust="spacingAndGlyphs">Листов</text>
<text class="tx" x="594.6" y="418.2" font-size="6.7" textLength="2.6" lengthAdjust="spacingAndGlyphs">1</text>
<text class="tx" y="405.7" font-size="12"><tspan x="448.7" textLength="29" lengthAdjust="spacingAndGlyphs">Отвод</tspan> <tspan x="482.7" textLength="22.6" lengthAdjust="spacingAndGlyphs">пара</tspan></text>
<text class="tx" y="432.8" font-size="7.8"><tspan x="444.7" textLength="20" lengthAdjust="spacingAndGlyphs">Котел</tspan> <tspan x="468.7" textLength="26" lengthAdjust="spacingAndGlyphs">паровой</tspan> <tspan x="497.6" textLength="15.4" lengthAdjust="spacingAndGlyphs">типа</tspan> <tspan x="516.4" textLength="8.8" lengthAdjust="spacingAndGlyphs">КП</tspan></text>
<text class="tx" x="425.4" y="448.4" font-size="6.7" textLength="29" lengthAdjust="spacingAndGlyphs">Копировал</text>
<text class="tx" x="574" y="448.8" font-size="6.7" textLength="27" lengthAdjust="spacingAndGlyphs">Формат А</text>
<rect class="blk" x="537" y="424.6" width="5.6" height="11"/>
<rect class="blk" x="534.4" y="424.05" width="10.8" height="2.5" rx="1.25"/>
<rect class="blk" x="534.4" y="427.28" width="10.8" height="2.5" rx="1.25"/>
<rect class="blk" x="534.4" y="430.51" width="10.8" height="2.5" rx="1.25"/>
<rect class="blk" x="534.4" y="433.74" width="10.8" height="2.5" rx="1.25"/>
<line class="wh" x1="536.4" y1="427.5" x2="543.2" y2="426.35"/>
<line class="wh" x1="536.4" y1="430.73" x2="543.2" y2="429.58"/>
<line class="wh" x1="536.4" y1="433.96" x2="543.2" y2="432.81"/>
<text class="logo" x="546.9" y="436.7" font-size="17.4" textLength="25.6" lengthAdjust="spacingAndGlyphs">KVZR</text>
<text class="lg2" x="576" y="430.4" font-size="5.2" textLength="27" lengthAdjust="spacingAndGlyphs">КОТЕЛЬНЫЙ</text>
<text class="lg2" x="576" y="436.4" font-size="5.2" textLength="38" lengthAdjust="spacingAndGlyphs">ЗАВОД РЭМЭКС</text>
</g>
</svg>
</body>
</html>
